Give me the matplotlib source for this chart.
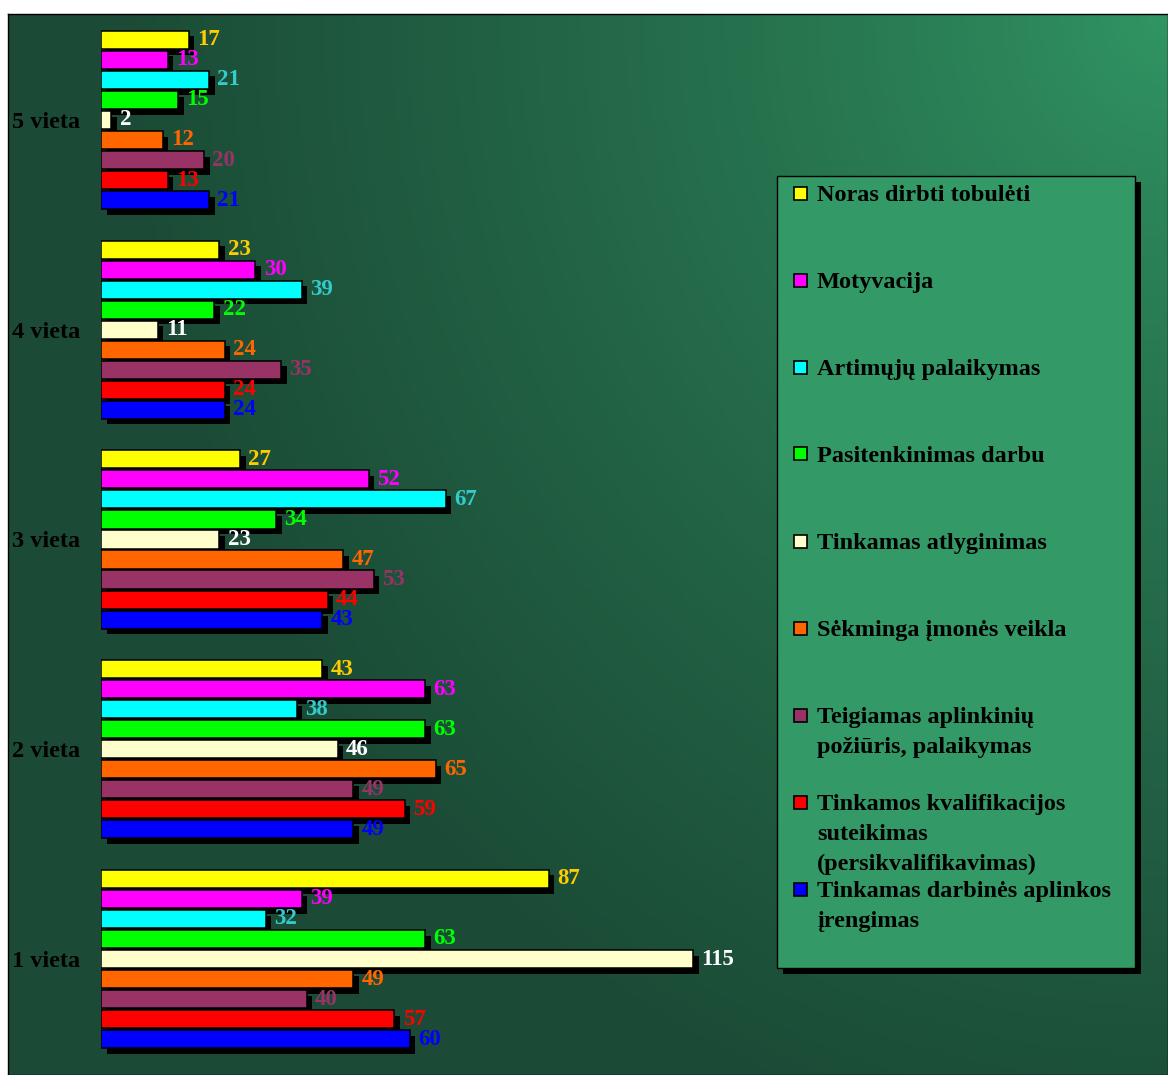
import numpy as np
import matplotlib
matplotlib.use("Agg")
import matplotlib.pyplot as plt
import matplotlib.patheffects as pe
from matplotlib.patches import Rectangle

# Categories (places), bottom to top on the chart
places = ["1 vieta", "2 vieta", "3 vieta", "4 vieta", "5 vieta"]

# Series (motivation factors), in drawing order from top bar to bottom bar
series_names = [
    "Noras dirbti tobulėti",
    "Motyvacija",
    "Artimųjų palaikymas",
    "Pasitenkinimas darbu",
    "Tinkamas atlyginimas",
    "Sėkminga įmonės veikla",
    "Teigiamas aplinkinių\npožiūris, palaikymas",
    "Tinkamos kvalifikacijos\nsuteikimas\n(persikvalifikavimas)",
    "Tinkamas darbinės aplinkos\nįrengimas",
]

# Counts per series for 1..5 vieta
noras = [87, 43, 27, 23, 17]
motyvacija = [39, 63, 52, 30, 13]
artimuju = [32, 38, 67, 39, 21]
pasitenkinimas = [63, 63, 34, 22, 15]
atlyginimas = [115, 46, 23, 11, 2]
sekminga = [49, 65, 47, 24, 12]
teigiamas = [40, 49, 53, 35, 20]
kvalifikacija = [57, 59, 44, 24, 13]
aplinka = [60, 49, 43, 24, 21]

series_values = [noras, motyvacija, artimuju, pasitenkinimas, atlyginimas,
                 sekminga, teigiamas, kvalifikacija, aplinka]

bar_colors = ["#FFFF00", "#FF00FF", "#00FFFF", "#00FF00", "#FFFFCC",
              "#FF6600", "#993366", "#FF0000", "#0000FF"]
label_colors = ["#FFCC00", "#FF00FF", "#33CCCC", "#00FF00", "#FFFFFF",
                "#FF6600", "#993366", "#FF0000", "#0000FF"]

W, H = 1168, 1075
fig = plt.figure(figsize=(W / 100, H / 100), dpi=100)
fig.patch.set_facecolor("white")

serif = ["Liberation Serif", "DejaVu Serif"]

# Background panel with a gradient brightening towards the upper right corner
bx0, by0 = 8, 14
bg = fig.add_axes([bx0 / W, 0, (W - bx0) / W, (H - by0) / H])
ny, nx = 300, 330
yy, xx = np.mgrid[0:ny, 0:nx]
px = xx / (nx - 1) * (W - bx0)
py = yy / (ny - 1) * (H - by0)
d = np.hypot((W - bx0) - px, py * 0.9) / 1050.0
t = np.clip(d, 0, 1) ** 0.8
light = np.array([0x31, 0x96, 0x64]) / 255
dark = np.array([0x1B, 0x4B, 0x36]) / 255
img = light[None, None, :] * (1 - t[..., None]) + dark[None, None, :] * t[..., None]
bg.imshow(img, aspect="auto", extent=[0, 1, 0, 1], origin="upper")
bg.set_xlim(0, 1)
bg.set_ylim(0, 1)
bg.set_xticks([])
bg.set_yticks([])
for s in bg.spines.values():
    s.set_color("black")
    s.set_linewidth(1.0)

# Main bar axes
ax_left, ax_right = 101, 760
px_per_unit = (693 - 101) / 115
ax = fig.add_axes([ax_left / W, 0, (ax_right - ax_left) / W, 1])
ax.patch.set_alpha(0)
ax.set_xlim(0, (ax_right - ax_left) / px_per_unit)
ax.set_ylim(-0.553, 4.572)

pitch = 0.0954
height = 0.086
n = len(series_names)
group_pos = np.arange(len(places))
shadow = [pe.SimplePatchShadow(offset=(4, -4), shadow_rgbFace="black", alpha=1.0),
          pe.Normal()]

for j in range(n):
    ypos = group_pos + (n // 2 - j) * pitch
    bars = ax.barh(ypos, series_values[j], height=height, color=bar_colors[j],
                   edgecolor="black", linewidth=1.1, zorder=3 + j * 0.01)
    for b in bars:
        b.set_path_effects(shadow)
    for y, v in zip(ypos, series_values[j]):
        ax.annotate(str(v), xy=(v, y), xytext=(6, 0), textcoords="offset points",
                    ha="left", va="center", fontsize=16.5, fontweight="bold",
                    family=serif, color=label_colors[j], zorder=10)

ax.set_yticks(group_pos)
ax.set_yticklabels(places, family=serif, fontsize=17.5, fontweight="bold",
                   color="black")
ax.tick_params(axis="y", length=0, pad=15)
ax.set_xticks([])
for s in ax.spines.values():
    s.set_visible(False)

# Legend box drawn in figure pixels
lx0, ly0, lx1, ly1 = 777, 176, 1135, 968
def fx(x):
    return x / W
def fy(y):
    return 1 - y / H

fig.patches.append(Rectangle((fx(lx0 + 6), fy(ly1 + 6)), (lx1 - lx0) / W, (ly1 - ly0) / H,
                             transform=fig.transFigure, facecolor="black",
                             edgecolor="none", zorder=20))
fig.patches.append(Rectangle((fx(lx0), fy(ly1)), (lx1 - lx0) / W, (ly1 - ly0) / H,
                             transform=fig.transFigure, facecolor="#339966",
                             edgecolor="black", linewidth=1.0, zorder=21))

first_line_y = 193
row_pitch = 87
sq = 13
for j, name in enumerate(series_names):
    yc = first_line_y + j * row_pitch
    fig.patches.append(Rectangle((fx(794), fy(yc + sq / 2)), sq / W, sq / H,
                                 transform=fig.transFigure, facecolor=bar_colors[j],
                                 edgecolor="black", linewidth=1.2, zorder=22))
    fig.text(fx(817), fy(yc - 8), name, ha="left", va="top", family=serif,
             fontsize=17.5, fontweight="bold", color="black", linespacing=1.56,
             zorder=23)

fig.savefig("out.png", dpi=100, facecolor=fig.get_facecolor())
